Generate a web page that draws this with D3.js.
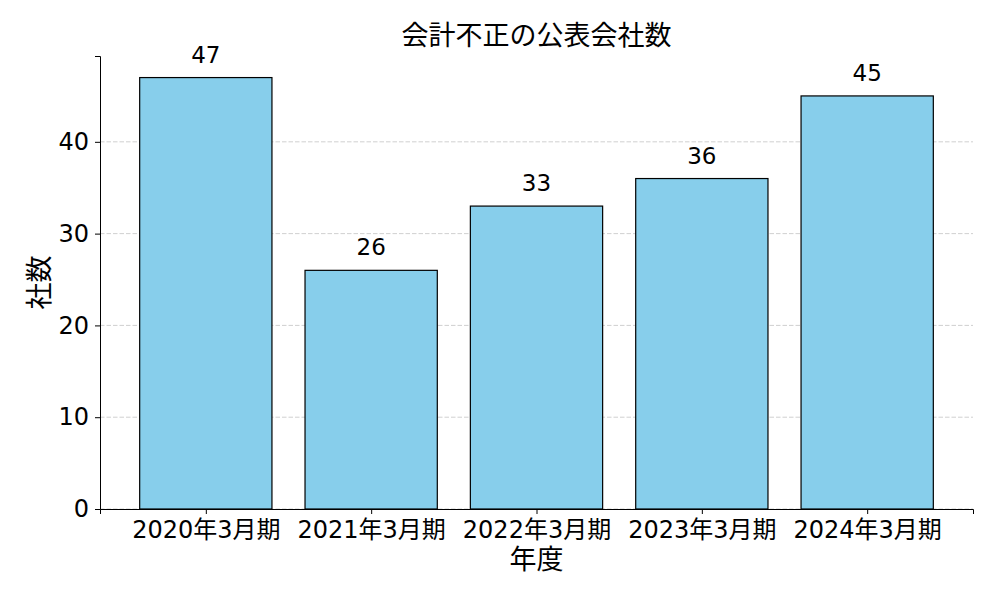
<!DOCTYPE html>
<html>
<head>
<meta charset="utf-8">
<script src="https://cdn.jsdelivr.net/npm/d3@7"></script>
<style>
  body { margin: 0; background: #fff; }
  svg text { font-family: "DejaVu Sans", "Noto Sans CJK JP", sans-serif; fill: #000; }
</style>
</head>
<body>
<div id="chart"></div>
<script>
const periods = ["2020年3月期", "2021年3月期", "2022年3月期", "2023年3月期", "2024年3月期"];
const counts = [47, 26, 33, 36, 45];
const yTicks = [0, 10, 20, 30, 40];

const width = 1000, height = 600;
const margin = { left: 100, right: 27, top: 56, bottom: 91 };
const plotW = width - margin.left - margin.right;
const plotH = height - margin.top - margin.bottom;

const svg = d3.select("#chart")
    .append("svg")
    .attr("width", width)
    .attr("height", height);

// bar width 0.8, 5% side margins like matplotlib
const x = d3.scaleLinear()
    .domain([-0.64, periods.length - 1 + 0.64])
    .range([0, plotW]);

const y = d3.scaleLinear()
    .domain([0, d3.max(counts) * 1.05])
    .range([plotH, 0]);

const g = svg.append("g")
    .attr("transform", `translate(${margin.left}, ${margin.top})`);

// grid
g.selectAll(".grid")
    .data(yTicks)
    .enter()
    .append("line")
    .attr("x1", 0)
    .attr("x2", plotW)
    .attr("y1", d => y(d))
    .attr("y2", d => y(d))
    .attr("stroke", "#c4c4c4")
    .attr("stroke-width", 0.8)
    .attr("stroke-dasharray", "4.5,2");

// bars
g.selectAll(".bar")
    .data(counts)
    .enter()
    .append("rect")
    .attr("x", (d, i) => x(i - 0.4))
    .attr("width", (d, i) => x(i + 0.4) - x(i - 0.4))
    .attr("y", d => y(d))
    .attr("height", d => plotH - y(d))
    .attr("fill", "#87ceeb")
    .attr("stroke", "#000")
    .attr("stroke-width", 1.2);

// value labels
g.selectAll(".val")
    .data(counts)
    .enter()
    .append("text")
    .attr("x", (d, i) => x(i))
    .attr("y", d => y(d) - 15)
    .attr("text-anchor", "middle")
    .style("font-size", "23px")
    .text(d => d);

// axes
const xAxis = d3.axisBottom(x)
    .tickValues(d3.range(periods.length))
    .tickFormat(i => periods[i])
    .tickSize(5)
    .tickPadding(7);

const yAxis = d3.axisLeft(y)
    .tickValues(yTicks)
    .tickSize(5)
    .tickPadding(6);

const gx = g.append("g")
    .attr("transform", `translate(0, ${plotH})`)
    .call(xAxis);
gx.select(".domain").attr("stroke", "#000").attr("stroke-width", 1);
gx.selectAll("text").style("font-size", "24px").attr("fill", "#000");

const gy = g.append("g").call(yAxis);
gy.select(".domain").attr("stroke", "#000").attr("stroke-width", 1);
gy.selectAll("text").style("font-size", "24px").attr("fill", "#000");

// title and labels
svg.append("text")
    .attr("x", margin.left + plotW / 2)
    .attr("y", 45)
    .attr("text-anchor", "middle")
    .style("font-size", "27px")
    .text("会計不正の公表会社数");

svg.append("text")
    .attr("x", margin.left + plotW / 2)
    .attr("y", 569)
    .attr("text-anchor", "middle")
    .style("font-size", "27px")
    .text("年度");

svg.append("text")
    .attr("transform", `translate(49, ${margin.top + plotH / 2}) rotate(-90)`)
    .attr("text-anchor", "middle")
    .style("font-size", "27px")
    .text("社数");
</script>
</body>
</html>
